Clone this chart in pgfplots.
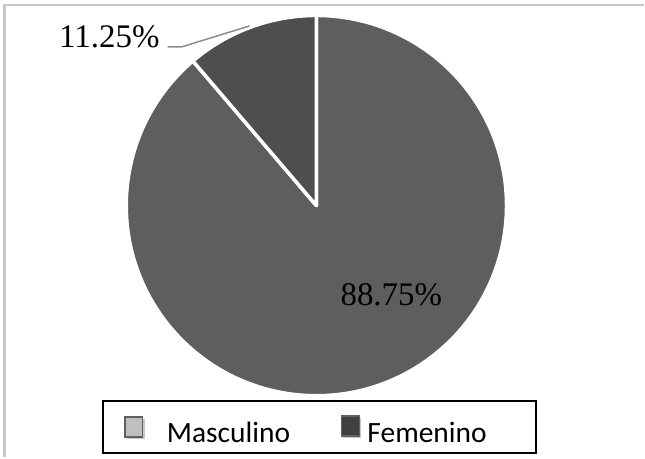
\documentclass[border=0pt]{standalone}
\usepackage{pgfplots}
\pgfplotsset{compat=1.18}
\usepackage{pgfplotstable}
\usepackage{fontspec}
\setmainfont{Liberation Serif}
\newfontfamily\legfont{Carlito}
\definecolor{masc}{HTML}{5E5E5E}
\definecolor{fem}{HTML}{4E4E4E}
\definecolor{frame}{HTML}{C8C8C8}
\definecolor{leader}{HTML}{8C8C8C}

\pgfplotstableread{
label value
Masculino 88.75
Femenino 11.25
}\piedata
\pgfplotstablegetelem{0}{value}\of\piedata \let\vM\pgfplotsretval
\pgfplotstablegetelem{1}{value}\of\piedata \let\vF\pgfplotsretval
\pgfmathsetmacro\angF{90+3.6*\vF}

\begin{document}
\begin{tikzpicture}
\begin{axis}[
  scale only axis, width=645pt, height=458pt,
  xmin=0, xmax=645, ymin=0, ymax=458,
  axis lines=none, clip=false,
  /pgf/number format/assume math mode=true,
]
\path (axis cs:0,0) rectangle (axis cs:645,458);
% outer frame
\draw[frame, line width=2.5pt] (axis cs:4.5,0) -- (axis cs:4.5,453) -- (axis cs:645,453);
% pie slices
\path[fill=masc, draw=white, line width=3.5pt, line join=round]
  (axis cs:317,252) -- ++(\angF:190.5pt) arc[start angle=\angF, end angle=450, radius=190.5pt] -- cycle;
\path[fill=fem, draw=white, line width=3.5pt, line join=round]
  (axis cs:317,252) -- ++(90:190.5pt) arc[start angle=90, end angle=\angF, radius=190.5pt] -- cycle;
% labels
\draw[leader, line width=1.5pt] (axis cs:168,411) -- (axis cs:182,411) -- (axis cs:250,432);
\node[anchor=base east, inner sep=0pt, font=\fontsize{33}{36}\selectfont] at (axis cs:160,410) {\pgfmathprintnumber[fixed,fixed zerofill,precision=2,assume math mode=true]{\vF}\%};
\node[anchor=base west, inner sep=0pt, font=\fontsize{33}{36}\selectfont] at (axis cs:341,152) {\pgfmathprintnumber[fixed,fixed zerofill,precision=2,assume math mode=true]{\vM}\%};
% legend
\draw[black, line width=2.5pt] (axis cs:103,4) rectangle (axis cs:537,56);
\fill[gray!45] (axis cs:127,18) rectangle (axis cs:145,38);
\path[fill=gray!50, draw=gray!75!black, line width=1.5pt] (axis cs:125,20) rectangle (axis cs:143,40);
\fill[gray!45] (axis cs:344,19) rectangle (axis cs:362,39);
\path[fill=black!75, draw=black!62, line width=1.5pt] (axis cs:342,21) rectangle (axis cs:360,41);
\node[anchor=base west, inner sep=0pt, font=\legfont\fontsize{29.5}{32}\selectfont] at (axis cs:167,15) {Masculino};
\node[anchor=base west, inner sep=0pt, font=\legfont\fontsize{29.5}{32}\selectfont] at (axis cs:368,15) {Femenino};
\end{axis}
\end{tikzpicture}
\end{document}
